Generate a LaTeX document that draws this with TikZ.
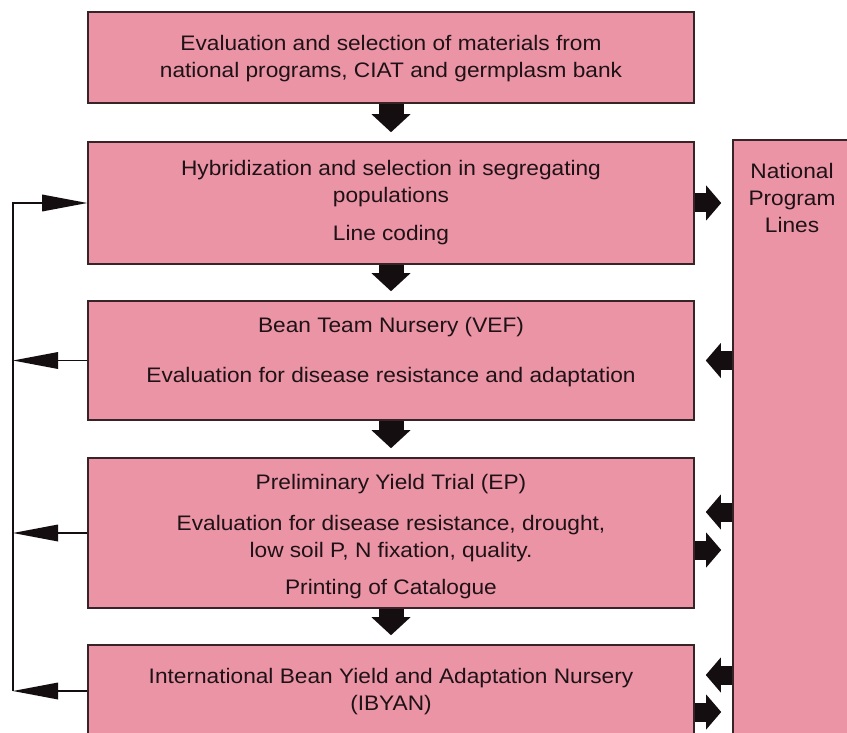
\documentclass[tikz,border=0pt]{standalone}
\usepackage{fontspec}
\setmainfont[FakeStretch=1.08]{Liberation Sans}
\usetikzlibrary{arrows.meta}
\definecolor{boxpink}{RGB}{235,148,166}
\definecolor{boxline}{RGB}{55,35,40}
\definecolor{txt}{RGB}{30,18,22}
\definecolor{arr}{RGB}{20,14,16}
\tikzset{
  box/.style={draw=boxline, line width=1.6pt, fill=boxpink, inner sep=0pt, minimum width=606pt},
  lbl/.style={font=\fontsize{21}{27}\selectfont, text=txt, align=center, inner sep=0pt},
  fatv/.style={draw=arr, line width=25pt, -{Triangle[line width=0pt,length=18pt,width=39pt]}, shorten >=9pt},
  fath/.style={draw=arr, line width=19pt, -{Triangle[line width=0pt,length=15pt,width=35pt]}, shorten >=11pt},
  fb/.style={draw=arr, line width=1.5pt, -{Triangle[line width=0pt,length=45pt,width=17pt]}},
}
\begin{document}
\begin{tikzpicture}[x=1pt,y=-1pt]
\path[use as bounding box, fill=white] (0,0) rectangle (847,733);
\clip (0,0) rectangle (847,733);
% boxes
\node[box, minimum height=91pt]  (b1) at (391,57.5) {};
\node[box, minimum height=122pt] (b2) at (391,203) {};
\node[box, minimum height=119pt] (b3) at (391,360.5) {};
\node[box, minimum height=150pt] (b4) at (391,533) {};
\node[box, minimum height=92pt]  (b5) at (391,691) {};
\node[box, minimum width=147pt, minimum height=620pt] (np) at (806.5,450) {};
% texts
\node[lbl] (t1) at (391,59) {Evaluation and selection of materials from\\national programs, CIAT and germplasm bank};
\node[lbl] (t2a) at (391,184) {Hybridization and selection in segregating\\populations};
\node[lbl] (t2b) at (391,235) {Line coding};
\node[lbl] (t3a) at (391,327) {Bean Team Nursery (VEF)};
\node[lbl] (t3b) at (391,377) {Evaluation for disease resistance and adaptation};
\node[lbl] (t4a) at (391,484) {Preliminary Yield Trial (EP)};
\node[lbl] (t4b) at (391,539) {Evaluation for disease resistance, drought,\\low soil P, N fixation, quality.};
\node[lbl] (t4c) at (391,589) {Printing of Catalogue};
\node[lbl] (t5) at (391,692) {International Bean Yield and Adaptation Nursery\\(IBYAN)};
\node[lbl] (tnp) at (792,198) {National\\Program\\Lines};
% down arrows
\draw[fatv] (b1.south) -- (b2.north);
\draw[fatv] (b2.south) -- (b3.north);
\draw[fatv] (b3.south) -- (b4.north);
\draw[fatv] (b4.south) -- (b5.north);
% side arrows
\coordinate (r2o) at (b2.east);
\coordinate (r3i) at (b3.east);
\coordinate (r4i) at ([yshift=21pt]b4.east);
\coordinate (r4o) at ([yshift=-17pt]b4.east);
\coordinate (r5i) at ([yshift=16pt]b5.east);
\coordinate (r5o) at ([yshift=-21pt]b5.east);
\draw[fath] (r2o) -- (r2o -| np.west);
\draw[fath] (r3i -| np.west) -- (r3i);
\draw[fath] (r4i -| np.west) -- (r4i);
\draw[fath] (r4o) -- (r4o -| np.west);
\draw[fath] (r5i -| np.west) -- (r5i);
\draw[fath] (r5o) -- (r5o -| np.west);
% feedback loop
\coordinate (fbx) at (13,0);
\draw[fb] (b5.west -| fbx) |- (b2.west);
\draw[fb] (b3.west) -- (b3.west -| fbx);
\draw[fb] (b4.west) -- (b4.west -| fbx);
\draw[fb] (b5.west) -- (b5.west -| fbx);
\end{tikzpicture}
\end{document}
